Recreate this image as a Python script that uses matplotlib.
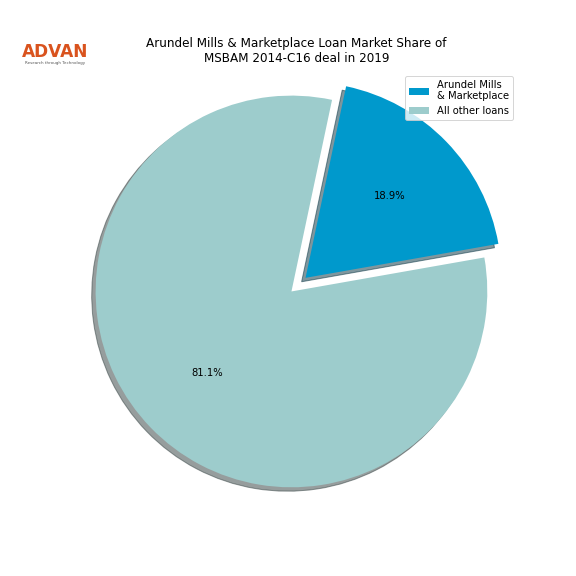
import matplotlib
matplotlib.use("Agg")
import matplotlib.pyplot as plt

labels = ["Arundel Mills\n& Marketplace", "All other loans"]
shares = [18.9, 81.1]
colors = ["#0099cc", "#9dcccc"]
explode = [0.1, 0]

fig = plt.figure(figsize=(8, 8), dpi=72)
ax = fig.add_axes([0.081, 0.066, 0.85, 0.856])
wedges, _, _ = ax.pie(shares, explode=explode, colors=colors, autopct="%1.1f%%",
                      shadow=True, startangle=10)
ax.set_aspect("equal")
fig.legend(wedges, labels, loc="upper right", bbox_to_anchor=(0.9, 0.877))
fig.suptitle("Arundel Mills & Marketplace Loan Market Share of\nMSBAM 2014-C16 deal in 2019",
             x=0.515, y=0.935, fontsize=12)
fig.text(0.096, 0.91, "ADVAN", color="#d9531e", fontsize=17, fontweight="bold",
         ha="center", va="center")
fig.text(0.096, 0.891, "Research through Technology", color="#555555", fontsize=4,
         ha="center", va="center")
fig.savefig("out.png")
